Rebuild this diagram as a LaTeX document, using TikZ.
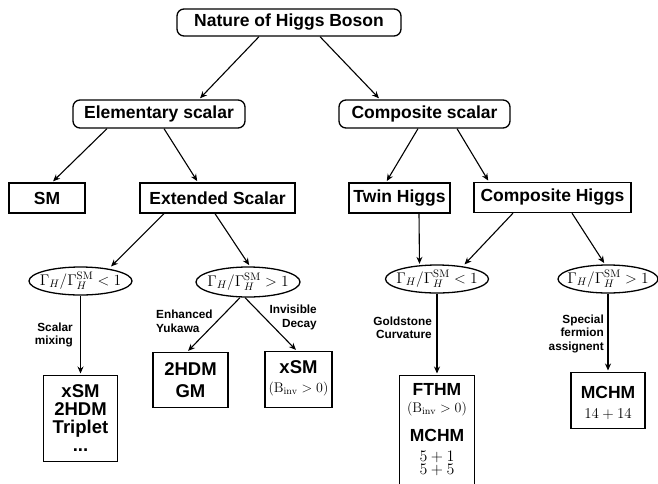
\RequirePackage{fix-cm}
\documentclass[tikz,border=0pt]{standalone}
\usepackage[no-math]{fontspec}
\setmainfont{Liberation Sans}
\usetikzlibrary{arrows.meta,shapes.geometric}

\newcommand\tstack[2]{\vbox{\hsize=#1\relax\lineskiplimit=-\maxdimen\lineskip=0pt\hbox{}#2}}
\newcommand\tline[2]{\baselineskip=#1\relax\hbox to\hsize{\hss#2\hss}}
\newcommand\tend[1]{\baselineskip=#1\relax\hbox{}}
\newcommand\bigb{\fontsize{18.5}{18.5}\selectfont\bfseries}
\newcommand\midb{\fontsize{17.5}{17.5}\selectfont\bfseries}

\tikzset{
  rbox/.style={draw, rounded corners=7pt, line width=1.3pt, inner sep=0pt, font=\fontsize{17.5}{20}\selectfont\bfseries},
  sbox/.style={draw, line width=1.3pt, inner sep=0pt, font=\fontsize{17.5}{20}\selectfont\bfseries},
  cond/.style={draw, ellipse, line width=1.3pt, inner sep=0pt, font=\fontsize{15.5}{18}\selectfont},
  res/.style={draw, line width=1.3pt, inner sep=0pt, anchor=north},
  lbl/.style={inner sep=0pt, font=\fontsize{11.8}{13.5}\selectfont\bfseries},
  arr/.style={-{Stealth[length=7pt,width=6pt]}, line width=1.1pt, shorten >=1.5pt},
}

\begin{document}
\begin{tikzpicture}[x=1pt,y=-1pt]
\useasboundingbox (0,0) rectangle (658,483);
\clip (0,0) rectangle (658,483);

% top levels
\node[rbox, minimum width=224pt, minimum height=27pt] (root) at (289,22.5) {Nature of Higgs Boson};
\node[rbox, minimum width=172pt, minimum height=28pt] (elem) at (159,114) {Elementary scalar};
\node[rbox, minimum width=171pt, minimum height=28pt] (comp) at (424.5,114) {Composite scalar};

\node[sbox, minimum width=76pt, minimum height=30pt] (sm) at (47,198) {SM};
\node[sbox, minimum width=155pt, minimum height=30pt] (ext) at (217.5,198) {Extended Scalar};
\node[sbox, minimum width=101pt, minimum height=30pt] (twin) at (399.5,198) {Twin Higgs};
\node[sbox, minimum width=157pt, minimum height=30pt] (chg) at (552.5,197.5) {Composite Higgs};

% conditions
\node[cond, minimum width=103pt, minimum height=28pt] (e1) at (80.5,281) {\makebox[0pt]{$\Gamma_H/\Gamma_H^{\mathrm{SM}}<1$}};
\node[cond, minimum width=104pt, minimum height=30pt] (e2) at (248,282) {\makebox[0pt]{$\Gamma_H/\Gamma_H^{\mathrm{SM}}>1$}};
\node[cond, minimum width=103pt, minimum height=28pt] (e3) at (437,279) {\makebox[0pt]{$\Gamma_H/\Gamma_H^{\mathrm{SM}}<1$}};
\node[cond, minimum width=100pt, minimum height=28pt] (e4) at (608,279) {\makebox[0pt]{$\Gamma_H/\Gamma_H^{\mathrm{SM}}>1$}};

% results
\node[res] (b1) at (80.5,375) {\tstack{74pt}{%
  \tline{22pt}{\bigb xSM}\tline{18pt}{\bigb 2HDM}\tline{18pt}{\bigb Triplet}\tline{18pt}{\bigb ...}\tend{10pt}}};
\node[res] (b2) at (190.5,352) {\tstack{75pt}{%
  \tline{23pt}{\bigb 2HDM}\tline{22pt}{\bigb GM}\tend{10pt}}};
\node[res] (b3) at (298.5,351) {\tstack{67pt}{%
  \tline{22pt}{\bigb xSM}\tline{18.5pt}{\fontsize{14}{14}\selectfont$(\mathrm{B}_{\mathrm{inv}}>0)$}\tend{15.5pt}}};
\node[res] (b4) at (437,375) {\tstack{75pt}{%
  \tline{19.5pt}{\midb FTHM}\tline{17pt}{\fontsize{14}{14}\selectfont$(\mathrm{B}_{\mathrm{inv}}>0)$}%
  \tline{29pt}{\midb MCHM}\tline{20.5pt}{\fontsize{16}{16}\selectfont$5+1$}\tline{12.5pt}{\fontsize{16}{16}\selectfont$5+5$}\tend{30pt}}};
\node[res] (b5) at (608,372) {\tstack{74pt}{%
  \tline{26pt}{\midb MCHM}\tline{20pt}{\fontsize{15}{15}\selectfont$14+14$}\tend{10pt}}};

% labels
\node[lbl, align=right, anchor=east] (l1) at (73,335) {Scalar\\mixing};
\node[lbl, align=left, anchor=west] (l2) at (156,321.5) {Enhanced\\Yukawa};
\node[lbl, align=right, anchor=east] (l3) at (317,317.5) {Invisible\\Decay};
\node[lbl, align=right, anchor=east] (l4) at (432,328) {Goldstone\\Curvature};
\node[lbl, align=right, anchor=east] (l5) at (604,333.5) {Special\\fermion\\assignent};

% connectors
\draw[arr] ([xshift=-30pt]root.south) -- ([xshift=40pt]elem.north);
\draw[arr] ([xshift=31pt]root.south) -- ([xshift=-44.5pt]comp.north);
\draw[arr] ([xshift=-52pt]elem.south) -- ([xshift=5pt]sm.north);
\draw[arr] ([xshift=5pt]elem.south) -- ([xshift=-19.5pt]ext.north);
\draw[arr] ([xshift=-6.5pt]comp.south) -- ([xshift=-13.5pt]twin.north);
\draw[arr] ([xshift=32.5pt]comp.south) -- ([xshift=-63.5pt]chg.north);
\draw[arr] ([xshift=-53.5pt]ext.south) -- ([shift={(29.5pt,13.5pt)}]e1.center);
\draw[arr] ([xshift=-2.5pt]ext.south) -- ([xshift=2pt]e2.north);
\draw[arr] (e1.south) -- (b1.north);
\draw[arr] ([xshift=-8pt]e2.south) -- ([xshift=-3.5pt]b2.north);
\draw[arr] ([xshift=-3pt]e2.south) -- ([xshift=-1.5pt]b3.north);
\draw[arr] ([xshift=19.5pt]twin.south) -- ([xshift=-17.5pt,yshift=-1pt]e3.north);
\draw[arr] ([xshift=-39.5pt]chg.south) -- ([shift={(26.5pt,13.5pt)}]e3.center);
\draw[arr] ([xshift=19.5pt]chg.south) -- ([xshift=-3pt]e4.north);
\draw[arr] (e3.south) -- (b4.north);
\draw[arr] (e4.south) -- (b5.north);
\end{tikzpicture}
\end{document}
